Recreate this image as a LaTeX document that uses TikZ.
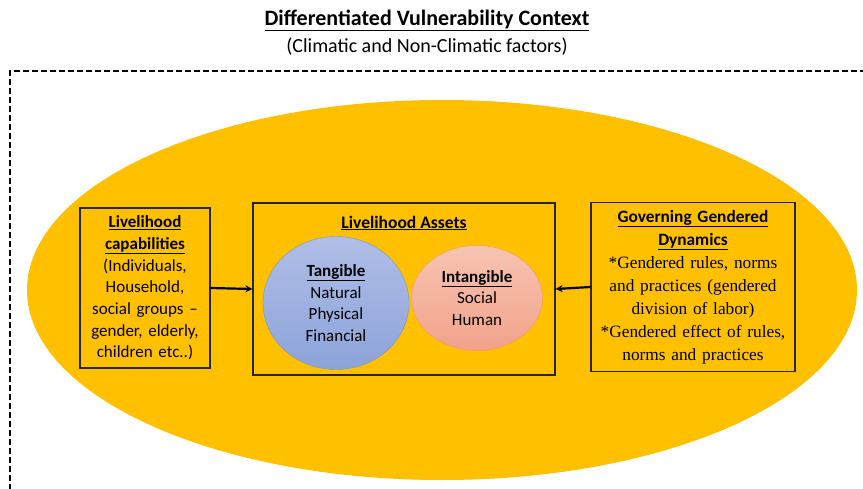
\documentclass[tikz,border=0pt]{standalone}
\usepackage{fontspec}
\usepackage{xcolor}
\setmainfont{Carlito}
\newfontfamily\timesfont{Liberation Serif}
\usetikzlibrary{shapes.geometric,arrows.meta}

\definecolor{contextgold}{HTML}{FFC000}
\definecolor{tangtop}{HTML}{B0BEE7}
\definecolor{tangbot}{HTML}{8CA3D9}
\definecolor{tangline}{HTML}{7D95CB}
\definecolor{intantop}{HTML}{F7C4B2}
\definecolor{intanbot}{HTML}{F2A28A}
\definecolor{intanline}{HTML}{EE9A66}

\tikzset{
  box/.style={draw=black!85, line width=1.2pt, inner sep=2pt, align=center},
  arrowline/.style={line width=2.2pt, -{Stealth[length=7pt,width=7pt]}},
  frame/.style={line width=2.2pt, dash pattern=on 6pt off 3pt}
}

\begin{document}
\begin{tikzpicture}[x=1pt,y=-1pt]
\useasboundingbox (0,0) rectangle (863,488);
\fill[white] (0,0) rectangle (863,488);
\draw (427,20) node[font=\fontsize{22}{26}\selectfont\bfseries](title) {\underline{Differentiated Vulnerability Context}};
\draw (427,47) node[font=\fontsize{20}{24}\selectfont](factors) {(Climatic and Non-Climatic factors)};
\draw[frame] (866,71) -| (10,492);
\draw (442,290) node[ellipse,fill=contextgold,minimum width=830,minimum height=380](context) {};
\draw (145,288) node[box,minimum width=130,minimum height=160,text width=126,inner sep=1pt,font=\fontsize{17}{21.7}\selectfont](caps) {{\bfseries\underline{Livelihood}}\\{\bfseries\underline{capabilities}}\\(Individuals,\\Household,\\social groups --\\gender, elderly,\\children etc..)};
\draw (404,289) node[box,minimum width=302,minimum height=172](assets) {};
\draw (404,223) node[font=\fontsize{17.5}{20}\selectfont\bfseries](assetstitle) {\underline{Livelihood Assets}};
\draw (336,303) node[ellipse,draw=tangline,top color=tangtop,bottom color=tangbot,minimum width=146,minimum height=133,align=center,font=\fontsize{17}{21.7}\selectfont](tangible) {{\bfseries\underline{Tangible}}\\Natural\\Physical\\Financial};
\draw (477,298) node[ellipse,draw=intanline,top color=intantop,bottom color=intanbot,minimum width=131,minimum height=105,align=center,font=\fontsize{17}{21.7}\selectfont](intangible) {{\bfseries\underline{Intangible}}\\Social\\Human};
\draw (693,287) node[box,minimum width=204,minimum height=169,text width=200,inner sep=1pt,font=\fontsize{17.3}{23}\selectfont](govern) {{\bfseries\underline{Governing Gendered}}\\{\bfseries\underline{Dynamics}}\\{\timesfont *Gendered rules, norms}\\{\timesfont and practices (gendered}\\{\timesfont division of labor)}\\{\timesfont *Gendered effect of rules,}\\{\timesfont norms and practices}};
\draw[arrowline] (caps.east) -- (assets.west);
\draw[arrowline] (govern.west) -- (assets.east);
\end{tikzpicture}
\end{document}
